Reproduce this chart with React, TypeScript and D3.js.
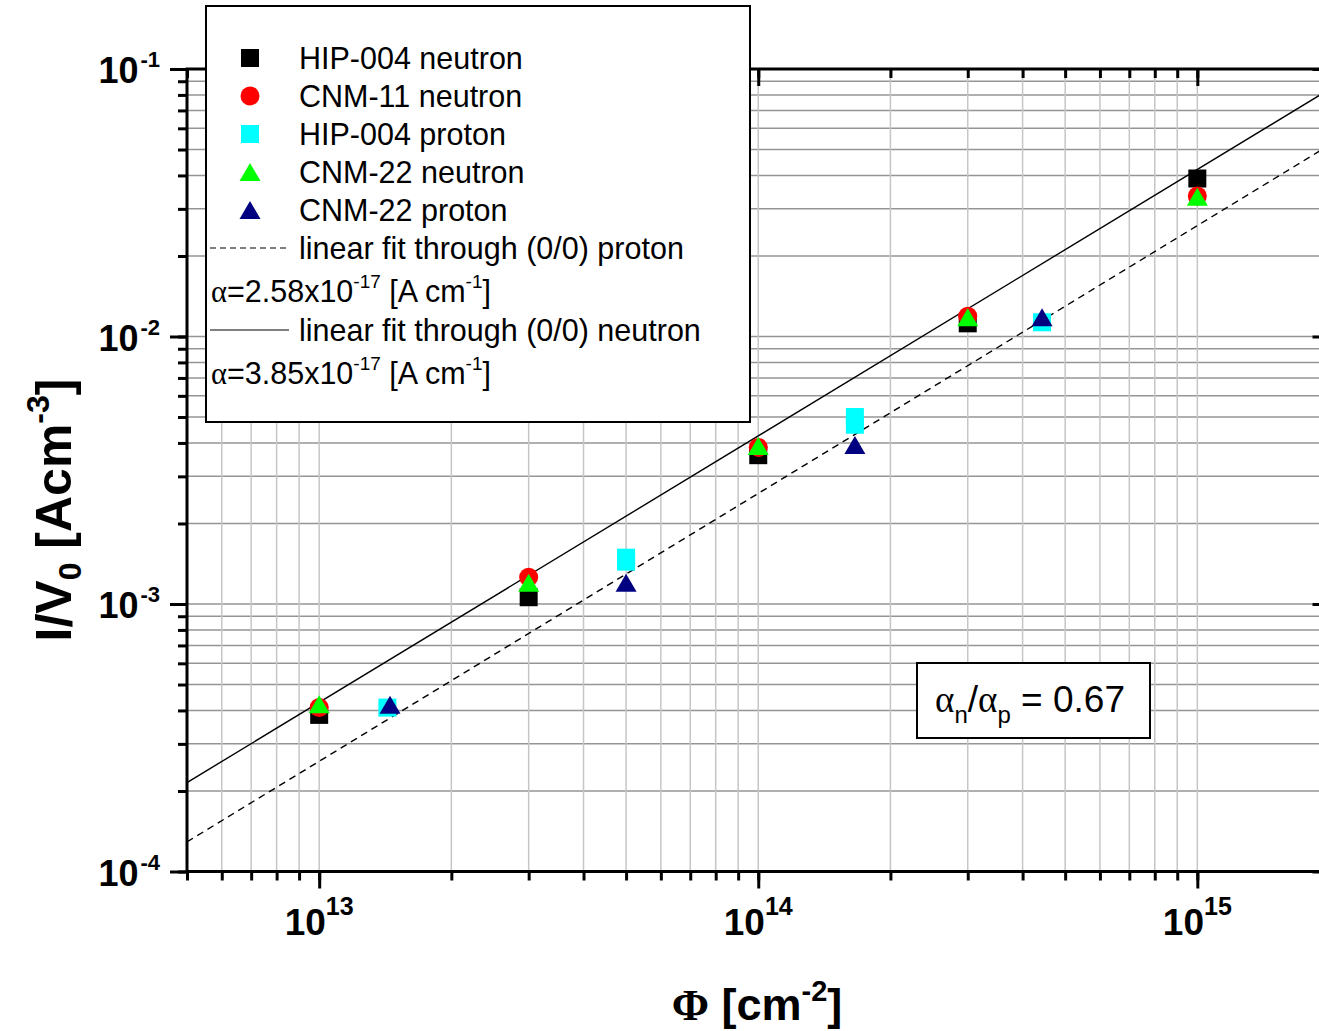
import React, { useEffect, useRef } from 'react';
import * as d3 from 'd3';

// fluence [cm^-2] and leakage current per volume [A cm^-3]
const hipNeutronPhi = [1e13, 3e13, 1e14, 3e14, 1e15];
const hipNeutronI = [3.85e-4, 1.06e-3, 3.6e-3, 1.12e-2, 3.9e-2];
const cnm11NeutronPhi = [1e13, 3e13, 1e14, 3e14, 1e15];
const cnm11NeutronI = [4.1e-4, 1.26e-3, 3.85e-3, 1.19e-2, 3.35e-2];
const hipProtonPhi = [1.43e13, 5e13, 5e13, 1.66e14, 1.66e14, 4.43e14];
const hipProtonI = [4.1e-4, 1.49e-3, 1.44e-3, 5.0e-3, 4.68e-3, 1.13e-2];
const cnm22NeutronPhi = [1e13, 3e13, 1e14, 3e14, 1e15];
const cnm22NeutronI = [4.22e-4, 1.2e-3, 3.9e-3, 1.18e-2, 3.33e-2];
const cnm22ProtonPhi = [1.45e13, 5e13, 1.66e14, 4.43e14];
const cnm22ProtonI = [4.2e-4, 1.2e-3, 3.93e-3, 1.18e-2];

// fit lines, end points
const neutronFitPhi = [5e12, 2e15];
const neutronFitI = [2.15e-4, 8.4e-2];
const protonFitPhi = [5e12, 2e15];
const protonFitI = [1.29e-4, 5.2e-2];

const xMajor = [13, 14, 15];
const yMajor = [-1, -2, -3, -4];

const SANS = 'Liberation Sans, Arial, sans-serif';
const SERIF = 'Liberation Serif, Times New Roman, serif';

const App = () => {
  const ref = useRef<SVGSVGElement>(null);

  useEffect(() => {
    const svg = d3.select(ref.current);
    svg.selectAll('*').remove();

    const width = 1319;
    const height = 1031;
    const x = d3.scaleLog().domain([5e12, 2e15]).range([187, 1329.5]);
    const y = d3.scaleLog().domain([1e-4, 1e-1]).range([871.5, 69]);
    const [x0, x1] = x.range();
    const [y0, y1] = y.range();

    svg.append('rect').attr('width', width).attr('height', height).attr('fill', '#fff');

    const minorX: number[] = [];
    for (let e = 12; e <= 15; e++) for (let m = 1; m <= 9; m++) {
      const v = m * Math.pow(10, e);
      if (v >= 5e12 && v <= 2e15) minorX.push(v);
    }
    const minorY: number[] = [];
    for (let e = -4; e <= -2; e++) for (let m = 1; m <= 9; m++) minorY.push(m * Math.pow(10, e));
    minorY.push(1e-1);

    // grid
    svg.append('g').selectAll('line').data(minorY).enter().append('line')
      .attr('x1', x0).attr('x2', x1)
      .attr('y1', d => y(d)).attr('y2', d => y(d))
      .attr('stroke', '#959595').attr('stroke-width', 1.5);
    svg.append('g').selectAll('line').data(minorX).enter().append('line')
      .attr('y1', y0).attr('y2', y1)
      .attr('x1', d => x(d)).attr('x2', d => x(d))
      .attr('stroke', '#c6c6c6').attr('stroke-width', 1.5);

    svg.append('clipPath').attr('id', 'plot-clip').append('rect')
      .attr('x', x0).attr('y', y1).attr('width', x1 - x0).attr('height', y0 - y1);

    const plot = svg.append('g').attr('clip-path', 'url(#plot-clip)');
    const line = d3.line<[number, number]>().x(d => x(d[0])).y(d => y(d[1]));

    plot.append('path')
      .attr('d', line(protonFitPhi.map((p, i) => [p, protonFitI[i]])))
      .attr('fill', 'none').attr('stroke', '#000').attr('stroke-width', 1.4)
      .attr('stroke-dasharray', '7,5');
    plot.append('path')
      .attr('d', line(neutronFitPhi.map((p, i) => [p, neutronFitI[i]])))
      .attr('fill', 'none').attr('stroke', '#000').attr('stroke-width', 1.4);

    const sym = {
      square: d3.symbol().type(d3.symbolSquare).size(18 * 18)(),
      circle: d3.symbol().type(d3.symbolCircle).size(Math.PI * 9.5 * 9.5)(),
    };
    const tri = 'M0,-9L10.5,9L-10.5,9Z';

    const series = [
      { name: 'HIP-004 neutron', phi: hipNeutronPhi, val: hipNeutronI, color: '#000000', shape: sym.square },
      { name: 'CNM-11 neutron', phi: cnm11NeutronPhi, val: cnm11NeutronI, color: '#ff0000', shape: sym.circle },
      { name: 'HIP-004 proton', phi: hipProtonPhi, val: hipProtonI, color: '#00ffff', shape: sym.square },
      { name: 'CNM-22 neutron', phi: cnm22NeutronPhi, val: cnm22NeutronI, color: '#00ff00', shape: tri },
      { name: 'CNM-22 proton', phi: cnm22ProtonPhi, val: cnm22ProtonI, color: '#000080', shape: tri },
    ];

    series.forEach(s => {
      plot.append('g').selectAll('path').data(s.phi).enter().append('path')
        .attr('d', s.shape)
        .attr('transform', (d, i) => `translate(${x(d)},${y(s.val[i])})`)
        .attr('fill', s.color);
    });

    // axes
    const majorXv = xMajor.map(e => Math.pow(10, e));
    const majorYv = yMajor.map(e => Math.pow(10, e));
    const noLabel = () => '';
    const styleAxis = (g: any) => {
      g.select('.domain').remove();
      g.selectAll('line').attr('stroke', '#000').attr('stroke-width', 3);
    };

    const bottom = svg.append('g').attr('transform', `translate(0,${y0})`);
    bottom.append('g').call(d3.axisBottom(x).tickValues(minorX).tickSize(9).tickFormat(noLabel)).call(styleAxis);
    bottom.append('g').call(d3.axisBottom(x).tickValues(majorXv).tickSize(17).tickFormat(noLabel)).call(styleAxis);
    const top = svg.append('g').attr('transform', `translate(0,${y1})`);
    top.append('g').call(d3.axisBottom(x).tickValues(minorX).tickSize(9).tickFormat(noLabel)).call(styleAxis);
    top.append('g').call(d3.axisBottom(x).tickValues(majorXv).tickSize(17).tickFormat(noLabel)).call(styleAxis);
    const left = svg.append('g').attr('transform', `translate(${x0},0)`);
    left.append('g').call(d3.axisLeft(y).tickValues(minorY).tickSize(9).tickFormat(noLabel)).call(styleAxis);
    left.append('g').call(d3.axisLeft(y).tickValues(majorYv).tickSize(17).tickFormat(noLabel)).call(styleAxis);
    const right = svg.append('g').attr('transform', `translate(${x1},0)`);
    right.append('g').call(d3.axisLeft(y).tickValues(minorY).tickSize(9).tickFormat(noLabel)).call(styleAxis);
    right.append('g').call(d3.axisLeft(y).tickValues(majorYv).tickSize(17).tickFormat(noLabel)).call(styleAxis);

    svg.append('rect')
      .attr('x', x0).attr('y', y1).attr('width', x1 - x0).attr('height', y0 - y1)
      .attr('fill', 'none').attr('stroke', '#000').attr('stroke-width', 3);

    // tick labels
    xMajor.forEach(e => {
      const t = svg.append('text')
        .attr('x', x(Math.pow(10, e))).attr('y', 935)
        .attr('text-anchor', 'middle')
        .attr('font-family', SANS).attr('font-weight', 'bold').attr('font-size', 37);
      t.append('tspan').text('10');
      t.append('tspan').attr('dy', -20).attr('font-size', 25).text(String(e));
    });
    yMajor.forEach(e => {
      const t = svg.append('text')
        .attr('x', 160).attr('y', y(Math.pow(10, e)) + 14)
        .attr('text-anchor', 'end')
        .attr('font-family', SANS).attr('font-weight', 'bold').attr('font-size', 36);
      t.append('tspan').text('10');
      t.append('tspan').attr('dx', 2).attr('dy', -16).attr('font-size', 22).text(String(e));
    });

    // axis titles
    const xt = svg.append('text')
      .attr('x', 757).attr('y', 1020).attr('text-anchor', 'middle')
      .attr('font-family', SANS).attr('font-weight', 'bold').attr('font-size', 45);
    xt.append('tspan').attr('font-family', SERIF).text('Φ');
    xt.append('tspan').text(' [cm');
    xt.append('tspan').attr('dy', -19).attr('font-size', 29).text('-2');
    xt.append('tspan').attr('dy', 19).text(']');

    const yt = svg.append('text')
      .attr('transform', 'translate(71,510) rotate(-90)')
      .attr('text-anchor', 'middle')
      .attr('font-family', SANS).attr('font-weight', 'bold').attr('font-size', 50);
    yt.append('tspan').text('I/V');
    yt.append('tspan').attr('dy', 10).attr('font-size', 32).text('0');
    yt.append('tspan').attr('dy', -10).text(' [Acm');
    yt.append('tspan').attr('dy', -22).attr('font-size', 32).text('-3');
    yt.append('tspan').attr('dy', 22).text(']');

    // legend
    const fs = 30.5;
    const lg = svg.append('g');
    lg.append('rect').attr('x', 206).attr('y', 6).attr('width', 544).attr('height', 416)
      .attr('fill', '#fff').attr('stroke', '#000').attr('stroke-width', 2);
    const rowY = [58, 96, 134, 172, 210];
    series.forEach((s, i) => {
      lg.append('path').attr('d', s.shape)
        .attr('transform', `translate(250,${rowY[i]})`).attr('fill', s.color);
      lg.append('text').attr('x', 299).attr('y', rowY[i] + 11)
        .attr('font-family', SANS).attr('font-size', fs).text(s.name);
    });
    const fitRows = [
      { y: 248, dash: '6,4', label: 'linear fit through (0/0) proton', alpha: '2.58', ay: 302 },
      { y: 330, dash: null, label: 'linear fit through (0/0) neutron', alpha: '3.85', ay: 384 },
    ];
    fitRows.forEach(r => {
      lg.append('line').attr('x1', 210).attr('x2', 289).attr('y1', r.y).attr('y2', r.y)
        .attr('stroke', '#000').attr('stroke-width', 1.2)
        .attr('stroke-dasharray', r.dash);
      lg.append('text').attr('x', 299).attr('y', r.y + 11)
        .attr('font-family', SANS).attr('font-size', fs).text(r.label);
      const a = lg.append('text').attr('x', 211).attr('y', r.ay)
        .attr('font-family', SANS).attr('font-size', fs);
      a.append('tspan').attr('font-family', SERIF).text('α');
      a.append('tspan').text(`=${r.alpha}x10`);
      a.append('tspan').attr('dy', -14).attr('font-size', 19).text('-17');
      a.append('tspan').attr('dy', 14).text(' [A cm');
      a.append('tspan').attr('dy', -14).attr('font-size', 19).text('-1');
      a.append('tspan').attr('dy', 14).text(']');
    });

    // ratio box
    svg.append('rect').attr('x', 917).attr('y', 663).attr('width', 233).attr('height', 75)
      .attr('fill', '#fff').attr('stroke', '#000').attr('stroke-width', 2);
    const rt = svg.append('text').attr('x', 935).attr('y', 712)
      .attr('font-family', SANS).attr('font-size', 37);
    rt.append('tspan').attr('font-family', SERIF).text('α');
    rt.append('tspan').attr('dy', 11).attr('font-size', 24).text('n');
    rt.append('tspan').attr('dy', -11).text('/');
    rt.append('tspan').attr('font-family', SERIF).text('α');
    rt.append('tspan').attr('dy', 11).attr('font-size', 24).text('p');
    rt.append('tspan').attr('dy', -11).text(' = 0.67');
  }, []);

  return (
    <svg ref={ref} width={1319} height={1031}
      style={{ position: 'absolute', left: 0, top: 0 }} />
  );
};

export default App;
